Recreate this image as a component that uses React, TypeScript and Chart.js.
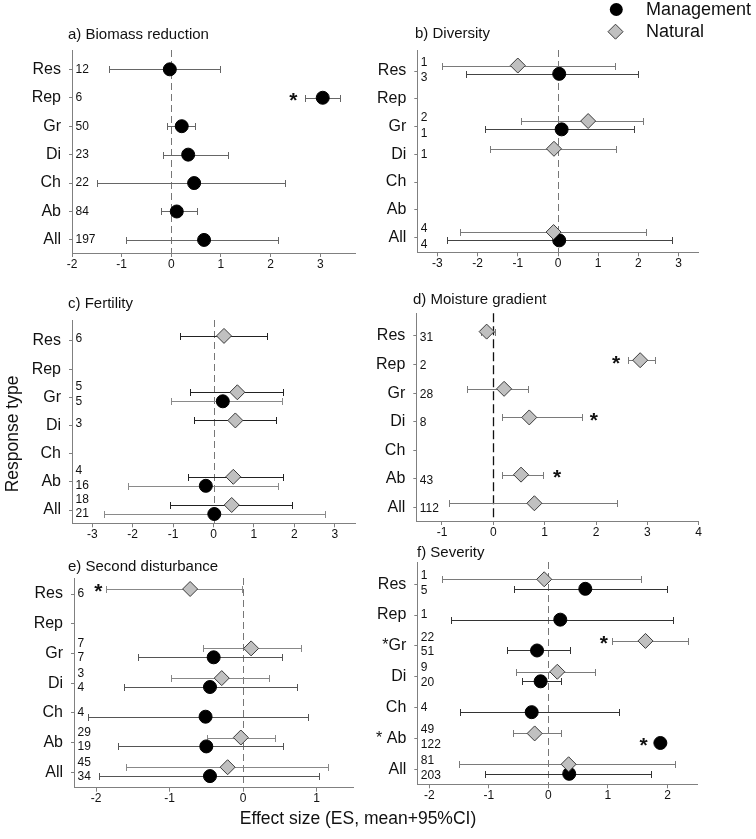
import React, { useEffect, useRef } from 'react';
import { Chart, registerables } from 'chart.js';
Chart.register(...registerables);

const FONT = "'Liberation Sans', Arial, Helvetica, sans-serif";
const W = 756;
const H = 839;

const categories = ['Res', 'Rep', 'Gr', 'Di', 'Ch', 'Ab', 'All'];
const severityLabels = ['Res', 'Rep', '*Gr', 'Di', 'Ch', '* Ab', 'All'];

// a) Biomass reduction
const aTicks = [-2, -1, 0, 1, 2, 3];
const aMgmtMean = [-0.03, 3.05, 0.21, 0.34, 0.46, 0.11, 0.66];
const aMgmtLo = [-1.26, 2.7, -0.09, -0.17, -1.5, -0.2, -0.92];
const aMgmtHi = [0.99, 3.4, 0.48, 1.15, 2.3, 0.52, 2.15];
const aMgmtN = ['12', '6', '50', '23', '22', '84', '197'];
const aStars = [{ row: 1, series: 0, x: 2.46 }];

// b) Diversity
const bTicks = [-3, -2, -1, 0, 1, 2, 3];
const bNatMean = [-1.0, null, 0.75, -0.1, null, null, -0.11];
const bNatLo = [-2.89, null, -0.92, -1.7, null, null, -2.43];
const bNatHi = [1.41, null, 2.11, 1.44, null, null, 2.19];
const bNatN = ['1', null, '2', '1', null, null, '4'];
const bMgmtMean = [0.03, null, 0.09, null, null, null, 0.03];
const bMgmtLo = [-2.28, null, -1.82, null, null, null, -2.75];
const bMgmtHi = [2.0, null, 1.9, null, null, null, 2.84];
const bMgmtN = ['3', null, '1', null, null, null, '4'];

// c) Fertility
const cTicks = [-3, -2, -1, 0, 1, 2, 3];
const cNatMean = [0.26, null, 0.59, 0.54, null, 0.49, 0.45];
const cNatLo = [-0.82, null, -0.58, -0.48, null, -0.63, -1.07];
const cNatHi = [1.32, null, 1.71, 1.55, null, 1.71, 1.95];
const cNatN = ['6', null, '5', '3', null, '4', '18'];
const cMgmtMean = [null, null, 0.23, null, null, -0.19, 0.02];
const cMgmtLo = [null, null, -1.05, null, null, -2.12, -2.7];
const cMgmtHi = [null, null, 1.69, null, null, 1.59, 2.75];
const cMgmtN = [null, null, '5', null, null, '16', '21'];

// d) Moisture gradient
const dTicks = [-1, 0, 1, 2, 3, 4];
const dNatMean = [-0.13, 2.86, 0.21, 0.7, null, 0.54, 0.8];
const dNatLo = [-0.24, 2.62, -0.51, 0.16, null, 0.16, -0.87];
const dNatHi = [0.03, 3.15, 0.67, 1.72, null, 0.96, 2.4];
const dNatN = ['31', '2', '28', '8', null, '43', '112'];
const dStars = [
  { row: 1, series: 0, x: 2.39 },
  { row: 3, series: 0, x: 1.96 },
  { row: 5, series: 0, x: 1.24 },
];

// e) Second disturbance
const eTicks = [-2, -1, 0, 1];
const eNatMean = [-0.72, null, 0.11, -0.29, null, -0.03, -0.21];
const eNatLo = [-1.87, null, -0.54, -0.98, null, -0.49, -1.59];
const eNatHi = [-0.01, null, 0.79, 0.35, null, 0.44, 1.16];
const eNatN = ['6', null, '7', '3', null, '29', '45'];
const eMgmtMean = [null, null, -0.4, -0.45, -0.51, -0.5, -0.45];
const eMgmtLo = [null, null, -1.43, -1.62, -2.11, -1.7, -1.96];
const eMgmtHi = [null, null, 0.53, 0.74, 0.88, 0.54, 1.04];
const eMgmtN = [null, null, '7', '4', '4', '19', '34'];
const eStars = [{ row: 0, series: 0, x: -1.97 }];

// f) Severity
const fTicks = [-2, -1, 0, 1, 2];
const fNatMean = [-0.07, null, 1.63, 0.15, null, -0.23, 0.34];
const fNatLo = [-1.79, null, 1.06, -0.54, null, -0.6, -1.5];
const fNatHi = [1.56, null, 2.35, 0.79, null, 0.22, 2.13];
const fNatN = ['1', null, '22', '9', null, '49', '81'];
const fMgmtMean = [0.62, 0.2, -0.19, -0.13, -0.28, 1.88, 0.35];
const fMgmtLo = [-0.58, -1.63, -0.7, -0.45, -1.49, 1.88, -1.07];
const fMgmtHi = [1.99, 2.09, 0.37, 0.22, 1.19, 1.88, 1.72];
const fMgmtN = ['5', '1', '51', '20', '4', '122', '203'];
const fStars = [
  { row: 2, series: 0, x: 0.93 },
  { row: 5, series: 1, x: 1.6 },
];

const NAT_FILL = '#c0c0c0';
const NAT_EDGE = '#3a3a3a';
const MGMT_FILL = '#000000';
const AXIS = '#808080';
const TEXT = '#111111';

type Series = {
  kind: 'n' | 'm';
  mean: (number | null)[];
  lo: (number | null)[];
  hi: (number | null)[];
  n: (string | null)[];
  off: number;
  barColor: string;
};

const nat = (mean, lo, hi, n, off, barColor): Series => ({ kind: 'n', mean, lo, hi, n, off, barColor });
const mgmt = (mean, lo, hi, n, off, barColor): Series => ({ kind: 'm', mean, lo, hi, n, off, barColor });

const grayZero = { color: '#777777', dash: [7, 4], width: 1 };

const panels = [
  {
    key: 'a', title: 'a) Biomass reduction', titleX: 68, titleY: 35,
    L: 72, R: 355, T: 50, B: 253, xMin: -2, xMax: 3.7, xTicks: aTicks, yMin: -0.68, yMax: 6.46,
    yLabels: categories, zero: grayZero, nTop: 0, nBot: 0, nSingle: 0,
    series: [mgmt(aMgmtMean, aMgmtLo, aMgmtHi, aMgmtN, 0, '#666666')], stars: aStars,
  },
  {
    key: 'b', title: 'b) Diversity', titleX: 415, titleY: 34,
    L: 417.3, R: 698.7, T: 50, B: 252.3, xMin: -3.5, xMax: 3.5, xTicks: bTicks, yMin: -0.76, yMax: 6.53,
    yLabels: categories, zero: grayZero, nTop: -0.31, nBot: 0.24, nSingle: 0,
    series: [
      nat(bNatMean, bNatLo, bNatHi, bNatN, -0.2, '#7a7a7a'),
      mgmt(bMgmtMean, bMgmtLo, bMgmtHi, bMgmtN, 0.1, '#444444'),
    ], stars: [], legend: true,
  },
  {
    key: 'c', title: 'c) Fertility', titleX: 68, titleY: 304,
    L: 72, R: 355, T: 320, B: 523.3, xMin: -3.5, xMax: 3.5, xTicks: cTicks, yMin: -0.745, yMax: 6.47,
    yLabels: categories, zero: grayZero, nTop: -0.38, nBot: 0.14, nSingle: -0.08,
    series: [
      nat(cNatMean, cNatLo, cNatHi, cNatN, -0.18, '#222222'),
      mgmt(cMgmtMean, cMgmtLo, cMgmtHi, cMgmtN, 0.14, '#8a8a8a'),
    ], stars: [], yTitle: true,
  },
  {
    key: 'd', title: 'd) Moisture gradient', titleX: 413, titleY: 300,
    L: 416.3, R: 698.7, T: 313.3, B: 521, xMin: -1.5, xMax: 4, xTicks: dTicks, yMin: -0.79, yMax: 6.47,
    yLabels: categories, zero: { color: '#111111', dash: [9, 4], width: 1.3 }, nTop: 0, nBot: 0, nSingle: 0.05,
    series: [nat(dNatMean, dNatLo, dNatHi, dNatN, -0.15, '#7a7a7a')], stars: dStars,
  },
  {
    key: 'e', title: 'e) Second disturbance', titleX: 68, titleY: 567,
    L: 74, R: 353.3, T: 578, B: 787.7, xMin: -2.3, xMax: 1.5, xTicks: eTicks, yMin: -0.54, yMax: 6.52,
    yLabels: categories, zero: grayZero, nTop: -0.32, nBot: 0.15, nSingle: 0,
    series: [
      nat(eNatMean, eNatLo, eNatHi, eNatN, -0.17, '#888888'),
      mgmt(eMgmtMean, eMgmtLo, eMgmtHi, eMgmtN, 0.13, '#555555'),
    ], stars: eStars, xTitle: true,
  },
  {
    key: 'f', title: 'f) Severity', titleX: 417, titleY: 553,
    L: 417.3, R: 697.3, T: 562, B: 784.3, xMin: -2.2, xMax: 2.5, xTicks: fTicks, yMin: -0.72, yMax: 6.49,
    yLabels: severityLabels, zero: grayZero, nTop: -0.28, nBot: 0.2, nSingle: 0,
    series: [
      nat(fNatMean, fNatLo, fNatHi, fNatN, -0.16, '#7a7a7a'),
      mgmt(fMgmtMean, fMgmtLo, fMgmtHi, fMgmtN, 0.15, '#333333'),
    ], stars: fStars,
  },
];

const Y_W = 45;
const X_H = 22;

function drawDiamond(ctx, x, y, r) {
  ctx.beginPath();
  ctx.moveTo(x, y - r);
  ctx.lineTo(x + r, y);
  ctx.lineTo(x, y + r);
  ctx.lineTo(x - r, y);
  ctx.closePath();
  ctx.fillStyle = NAT_FILL;
  ctx.fill();
  ctx.strokeStyle = NAT_EDGE;
  ctx.lineWidth = 1;
  ctx.stroke();
}

function makeDeco(p) {
  return {
    id: 'deco_' + p.key,
    beforeDatasetsDraw(chart) {
      const { ctx, chartArea: ca } = chart;
      const x = chart.scales.x;
      const y = chart.scales.y;
      ctx.save();
      const x0 = Math.round(x.getPixelForValue(0)) + 0.5;
      ctx.strokeStyle = p.zero.color;
      ctx.lineWidth = p.zero.width;
      ctx.setLineDash(p.zero.dash);
      ctx.beginPath();
      ctx.moveTo(x0, ca.top);
      ctx.lineTo(x0, ca.bottom);
      ctx.stroke();
      ctx.setLineDash([]);
      ctx.lineWidth = 1;
      for (const s of p.series) {
        ctx.strokeStyle = s.barColor;
        s.mean.forEach((m, i) => {
          if (m == null || s.lo[i] == null || s.hi[i] == null) return;
          const yy = Math.round(y.getPixelForValue(i + s.off)) + 0.5;
          const a = Math.round(x.getPixelForValue(s.lo[i])) + 0.5;
          const b = Math.round(x.getPixelForValue(s.hi[i])) + 0.5;
          ctx.beginPath();
          ctx.moveTo(a, yy);
          ctx.lineTo(b, yy);
          ctx.moveTo(a, yy - 3.5);
          ctx.lineTo(a, yy + 3.5);
          ctx.moveTo(b, yy - 3.5);
          ctx.lineTo(b, yy + 3.5);
          ctx.stroke();
        });
      }
      ctx.restore();
    },
    afterDatasetsDraw(chart) {
      const { ctx, chartArea: ca } = chart;
      const x = chart.scales.x;
      const y = chart.scales.y;
      ctx.save();
      ctx.fillStyle = TEXT;
      ctx.font = `12px ${FONT}`;
      ctx.textAlign = 'left';
      ctx.textBaseline = 'middle';
      const nat = p.series.find((s) => s.kind === 'n');
      const mg = p.series.find((s) => s.kind === 'm');
      categories.forEach((_, i) => {
        const hasN = nat && nat.n[i] != null;
        const hasM = mg && mg.n[i] != null;
        if (hasN && hasM) {
          ctx.fillText(nat.n[i], ca.left + 3.5, y.getPixelForValue(i + p.nTop));
          ctx.fillText(mg.n[i], ca.left + 3.5, y.getPixelForValue(i + p.nBot));
        } else if (hasN) {
          ctx.fillText(nat.n[i], ca.left + 3.5, y.getPixelForValue(i + p.nSingle));
        } else if (hasM) {
          ctx.fillText(mg.n[i], ca.left + 3.5, y.getPixelForValue(i + p.nSingle));
        }
      });
      ctx.font = `bold 21px ${FONT}`;
      ctx.textAlign = 'center';
      ctx.textBaseline = 'alphabetic';
      for (const st of p.stars) {
        const s = p.series[st.series];
        ctx.fillText('*', x.getPixelForValue(st.x), y.getPixelForValue(st.row + s.off) + 9.5);
      }
      ctx.restore();
    },
    afterDraw(chart) {
      const { ctx } = chart;
      ctx.save();
      ctx.fillStyle = TEXT;
      ctx.textBaseline = 'middle';
      ctx.textAlign = 'left';
      ctx.font = `15px ${FONT}`;
      ctx.fillText(p.title, p.titleX, p.titleY);
      if (p.legend) {
        ctx.beginPath();
        ctx.arc(616.3, 9.5, 6.5, 0, Math.PI * 2);
        ctx.fillStyle = MGMT_FILL;
        ctx.fill();
        drawDiamond(ctx, 615.5, 31.7, 7.5);
        ctx.fillStyle = TEXT;
        ctx.font = `18px ${FONT}`;
        ctx.fillText('Management', 646, 10);
        ctx.fillText('Natural', 646, 32);
      }
      if (p.yTitle) {
        ctx.save();
        ctx.translate(13, 434);
        ctx.rotate(-Math.PI / 2);
        ctx.textAlign = 'center';
        ctx.font = `17.5px ${FONT}`;
        ctx.fillText('Response type', 0, 0);
        ctx.restore();
      }
      if (p.xTitle) {
        ctx.textAlign = 'center';
        ctx.font = `17.5px ${FONT}`;
        ctx.fillText('Effect size (ES, mean+95%CI)', 358, 819);
      }
      ctx.restore();
    },
  };
}

function makeConfig(p) {
  const datasets = p.series.map((s) => ({
    type: 'scatter',
    label: s.kind === 'n' ? 'Natural' : 'Management',
    data: s.mean
      .map((m, i) => (m == null ? null : { x: m, y: i + s.off }))
      .filter((d) => d != null),
    pointStyle: s.kind === 'n' ? 'rectRot' : 'circle',
    pointRadius: s.kind === 'n' ? 7.5 : 6.5,
    pointHoverRadius: s.kind === 'n' ? 7.5 : 6.5,
    pointBackgroundColor: s.kind === 'n' ? NAT_FILL : MGMT_FILL,
    pointBorderColor: s.kind === 'n' ? NAT_EDGE : MGMT_FILL,
    pointBorderWidth: 1,
    showLine: false,
  }));
  return {
    type: 'scatter',
    data: { datasets },
    options: {
      animation: false,
      responsive: false,
      devicePixelRatio: 1,
      events: [],
      layout: {
        padding: {
          left: p.L - Y_W,
          right: W - p.R,
          top: p.T,
          bottom: H - p.B - X_H,
        },
      },
      plugins: {
        legend: { display: false },
        tooltip: { enabled: false },
        title: { display: false },
      },
      scales: {
        x: {
          type: 'linear',
          min: p.xMin,
          max: p.xMax,
          afterBuildTicks: (s) => {
            s.ticks = p.xTicks.map((v) => ({ value: v }));
          },
          afterFit: (s) => {
            s.height = X_H;
          },
          ticks: {
            autoSkip: false,
            maxRotation: 0,
            padding: 0,
            color: TEXT,
            font: { family: FONT, size: 12 },
            callback: (v) => String(v),
          },
          grid: { display: true, drawOnChartArea: false, drawTicks: true, tickLength: 4, color: AXIS, lineWidth: 1 },
          border: { display: true, color: AXIS, width: 1 },
        },
        y: {
          type: 'linear',
          reverse: true,
          min: p.yMin,
          max: p.yMax,
          afterBuildTicks: (s) => {
            s.ticks = categories.map((_, i) => ({ value: i }));
          },
          afterFit: (s) => {
            s.width = Y_W;
          },
          ticks: {
            autoSkip: false,
            padding: 8,
            color: TEXT,
            font: { family: FONT, size: 16 },
            callback: (v) => p.yLabels[v],
          },
          grid: { display: true, drawOnChartArea: false, drawTicks: true, tickLength: 3, color: AXIS, lineWidth: 1 },
          border: { display: true, color: AXIS, width: 1 },
        },
      },
    },
    plugins: [makeDeco(p)],
  };
}

function Panel({ p }) {
  const ref = useRef(null);
  useEffect(() => {
    const chart = new Chart(ref.current, makeConfig(p) as any);
    return () => chart.destroy();
  }, [p]);
  return (
    <canvas
      ref={ref}
      width={W}
      height={H}
      style={{ position: 'absolute', left: 0, top: 0, width: W, height: H }}
    />
  );
}

export default function App() {
  return (
    <div style={{ position: 'absolute', left: 0, top: 0, width: W, height: H, background: '#ffffff', overflow: 'hidden' }}>
      {panels.map((p) => (
        <Panel key={p.key} p={p} />
      ))}
    </div>
  );
}
